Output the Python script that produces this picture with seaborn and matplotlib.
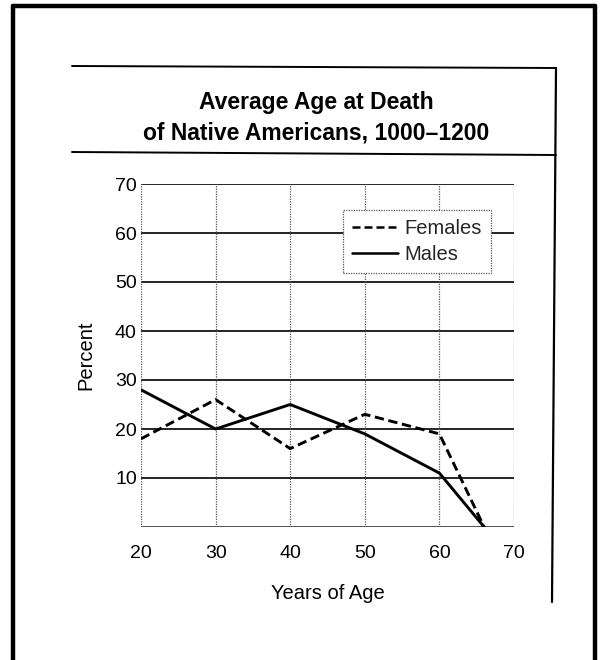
import matplotlib
matplotlib.use("Agg")
import matplotlib.pyplot as plt
import seaborn as sns
import pandas as pd
from matplotlib.lines import Line2D

# Data
ages = [20, 30, 40, 50, 60, 66]
females = [18, 26, 16, 23, 19, 0]
males = [28, 20, 25, 19, 11, 0]
series_names = ["Females", "Males"]
x_ticks = [20, 30, 40, 50, 60, 70]
y_ticks = [0, 10, 20, 30, 40, 50, 60, 70]
y_tick_labels = ["", "10", "20", "30", "40", "50", "60", "70"]

df = pd.DataFrame({
    "age": ages * 2,
    "pct": females + males,
    "sex": [series_names[0]] * len(ages) + [series_names[1]] * len(ages),
})

sns.set_theme(style="white")
plt.rcParams["font.family"] = ["Liberation Sans", "DejaVu Sans"]

fig = plt.figure(figsize=(6.02, 6.6), dpi=100)
W, H = 602, 660
ax = fig.add_axes([141 / W, 1 - 527 / H, (514 - 141) / W, (527 - 184) / H])

sns.lineplot(data=df, x="age", y="pct", style="sex", style_order=series_names,
             dashes={"Females": (3.2, 1.6), "Males": ""}, color="black",
             linewidth=2.1, ax=ax, legend=False, zorder=5)

ax.set_xlim(20, 70)
ax.set_ylim(0, 70)
ax.set_xticks(x_ticks)
ax.set_yticks(y_ticks)
ax.set_yticklabels(y_tick_labels)
ax.tick_params(axis="both", length=0, labelsize=14, colors="black")
ax.tick_params(axis="x", pad=13)
ax.tick_params(axis="y", pad=3)
for s in ax.spines.values():
    s.set_visible(False)

# grid: solid horizontal, dotted vertical
for y in y_ticks:
    ax.axhline(y, color="black" if y > 0 else "#333333", linewidth=1.2, zorder=1)
for x in x_ticks:
    ax.axvline(x, color="#555555", linewidth=0.9, linestyle=(0, (1, 1)), zorder=1)

ax.set_xlabel("Years of Age", fontsize=14.5, labelpad=16, color="black")
ax.set_ylabel("Percent", fontsize=14.5, labelpad=14, color="black")

handles = [Line2D([0], [0], color="black", lw=1.8, linestyle=(0, (3.2, 1.6))),
           Line2D([0], [0], color="black", lw=1.8)]
leg = ax.legend(handles, series_names, loc="upper left",
                bbox_to_anchor=((343 - 141) / (514 - 141), 1 - (210 - 184) / (527 - 184)),
                fontsize=14.5, frameon=True, fancybox=False, handlelength=2.3,
                handletextpad=0.3, borderpad=0.45, labelspacing=0.35, borderaxespad=0)
leg.get_frame().set_edgecolor("#555555")
leg.get_frame().set_linewidth(0.9)
leg.get_frame().set_linestyle((0, (1, 1)))
leg.get_frame().set_alpha(1)
leg.set_zorder(10)

# title
fig.text(316 / W, 1 - 103 / H, "Average Age at Death", ha="center", va="center",
         fontsize=16.5, fontweight="bold", color="black")
fig.text(316 / W, 1 - 133 / H, "of Native Americans, 1000\u20131200", ha="center", va="center",
         fontsize=16.5, fontweight="bold", color="black")

# decorative frame lines
def fl(xs, ys, lw):
    fig.add_artist(Line2D([x / W for x in xs], [1 - y / H for y in ys],
                          color="black", linewidth=lw, transform=fig.transFigure))

fl([12.5, 12.5], [660, 5.5], 3.2)
fl([12.5, 595], [5.5, 5.5], 3.2)
fl([595, 595], [5.5, 660], 3.2)
fl([72, 556], [66, 68], 1.4)
fl([72, 556], [152, 155], 1.4)
fl([556, 552], [68, 602], 1.6)

fig.savefig("out.png", dpi=100)
